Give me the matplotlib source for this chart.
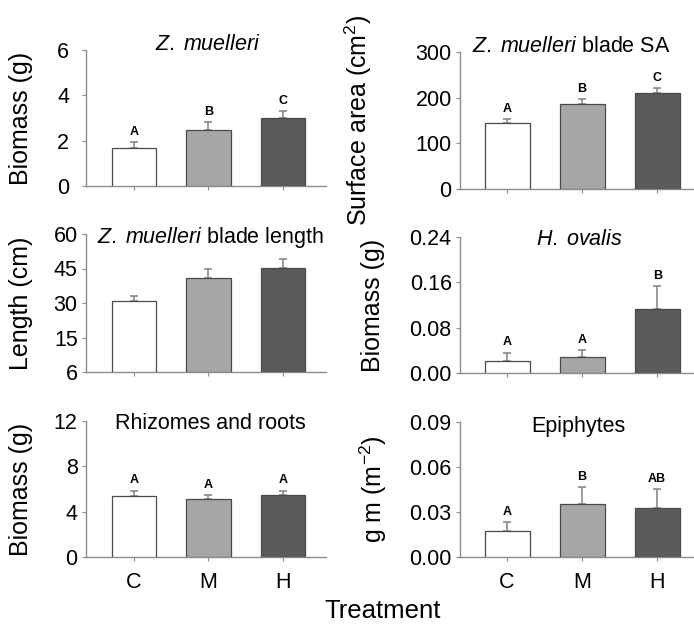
import matplotlib
matplotlib.use('Agg')
import matplotlib.pyplot as plt
import numpy as np

plt.rcParams['font.family'] = ['Liberation Sans', 'DejaVu Sans']
plt.rcParams['mathtext.fontset'] = 'custom'
plt.rcParams['mathtext.rm'] = 'Liberation Sans'
plt.rcParams['mathtext.it'] = 'Liberation Sans:italic'

treatments = ['C', 'M', 'H']
bar_colors = ['#ffffff', '#a6a6a6', '#5a5a5a']

zm_biomass = [1.68, 2.47, 3.00]
zm_biomass_se = [0.26, 0.35, 0.31]
zm_biomass_let = ['A', 'B', 'C']

blade_sa = [144, 186, 210]
blade_sa_se = [9, 11, 11]
blade_sa_let = ['A', 'B', 'C']

blade_len = [30.9, 41.0, 45.1]
blade_len_se = [2.3, 3.6, 3.9]

ho_biomass = [0.022, 0.028, 0.113]
ho_biomass_se = [0.014, 0.012, 0.040]
ho_biomass_let = ['A', 'A', 'B']

rhizome = [5.36, 5.09, 5.44]
rhizome_se = [0.50, 0.41, 0.42]
rhizome_let = ['A', 'A', 'A']

epiphytes = [0.0175, 0.0356, 0.0329]
epiphytes_se = [0.0057, 0.0109, 0.0124]
epiphytes_let = ['A', 'B', 'AB']

W, H = 694, 627
fig = plt.figure(figsize=(W / 100, H / 100), dpi=100)

def px_axes(left, top, right, bottom):
    return fig.add_axes([left / W, 1 - bottom / H, (right - left) / W, (bottom - top) / H])

panels = [
    dict(box=(86, 50, 326, 186), xlim=(-0.644, 2.577), vals=zm_biomass, se=zm_biomass_se,
         let=zm_biomass_let, ylim=(0, 6), yt=[0, 2, 4, 6], ytl=['0', '2', '4', '6'],
         title=r'$\mathit{Z.\;muelleri}$', tx=0.508, ty=1.0, ylabel='Biomass (g)', lx=-0.27, pad=9),
    dict(box=(460, 52, 694, 189), xlim=(-0.627, 2.49), vals=blade_sa, se=blade_sa_se,
         let=blade_sa_let, ylim=(0, 300), yt=[0, 100, 200, 300], ytl=['0', '100', '200', '300'],
         title=r'$\mathit{Z.\;muelleri}$ blade SA', tx=0.474, ty=1.0,
         ylabel='Surface area (cm$^2$)', lx=-0.435, pad=3),
    dict(box=(86, 234, 326, 372), xlim=(-0.644, 2.577), vals=blade_len, se=blade_len_se,
         let=None, ylim=(0, 60), yt=[0, 15, 30, 45, 60], ytl=['6', '15', '30', '45', '60'],
         title=r'$\mathit{Z.\;muelleri}$ blade length', tx=0.52, ty=0.935,
         ylabel='Length (cm)', lx=-0.27, pad=3),
    dict(box=(460, 237, 694, 373), xlim=(-0.627, 2.49), vals=ho_biomass, se=ho_biomass_se,
         let=ho_biomass_let, ylim=(0, 0.24), yt=[0, 0.08, 0.16, 0.24],
         ytl=['0.00', '0.08', '0.16', '0.24'],
         title=r'$\mathit{H.\;ovalis}$', tx=0.508, ty=0.94, ylabel='Biomass (g)', lx=-0.37, pad=3),
    dict(box=(86, 421, 326, 557), xlim=(-0.644, 2.577), vals=rhizome, se=rhizome_se,
         let=rhizome_let, ylim=(0, 12), yt=[0, 4, 8, 12], ytl=['0', '4', '8', '12'],
         title='Rhizomes and roots', tx=0.517, ty=0.94, ylabel='Biomass (g)', lx=-0.27, pad=3),
    dict(box=(460, 422, 694, 557), xlim=(-0.627, 2.49), vals=epiphytes, se=epiphytes_se,
         let=epiphytes_let, ylim=(0, 0.09), yt=[0, 0.03, 0.06, 0.09],
         ytl=['0.00', '0.03', '0.06', '0.09'],
         title='Epiphytes', tx=0.504, ty=0.925, ylabel='g m (m$^{-2}$)', lx=-0.37, pad=3),
]

x = np.arange(len(treatments))
for i, p in enumerate(panels):
    ax = px_axes(*p['box'])
    ax.bar(x, p['vals'], width=0.6, color=bar_colors, edgecolor='#4a4a4a', linewidth=0.9, zorder=3)
    ax.errorbar(x, p['vals'], yerr=[np.zeros(3), p['se']], fmt='none', ecolor='#808080',
                elinewidth=1.1, capsize=3, capthick=1.1, zorder=2)
    if p['let']:
        for xi, v, s, l in zip(x, p['vals'], p['se'], p['let']):
            ax.annotate(l, (xi, v + s), xytext=(0, 3), textcoords='offset points',
                        ha='center', va='bottom', fontsize=9, fontweight='bold')
    ax.set_xlim(*p['xlim'])
    ax.set_ylim(*p['ylim'])
    ax.set_yticks(p['yt'])
    ax.set_yticklabels(p['ytl'])
    ax.set_xticks(x)
    if i >= 4:
        ax.set_xticklabels(treatments)
    else:
        ax.set_xticklabels([])
    for side in ['top', 'right']:
        ax.spines[side].set_visible(False)
    for side in ['left', 'bottom']:
        ax.spines[side].set_color('#8c8c8c')
        ax.spines[side].set_linewidth(1.0)
    ax.tick_params(axis='y', length=3, color='#8c8c8c', labelsize=15.5, pad=p['pad'])
    ax.tick_params(axis='x', length=3, color='#8c8c8c', labelsize=15.5, pad=8)
    ax.text(p['tx'], p['ty'], p['title'], transform=ax.transAxes, ha='center',
            va='baseline', fontsize=15.5)
    ax.set_ylabel(p['ylabel'], fontsize=18, va='center')
    ax.yaxis.set_label_coords(p['lx'], 0.5)

fig.text(383 / W, 1 - 611 / H, 'Treatment', ha='center', va='center', fontsize=18.5)

fig.savefig('out.png', dpi=100)
